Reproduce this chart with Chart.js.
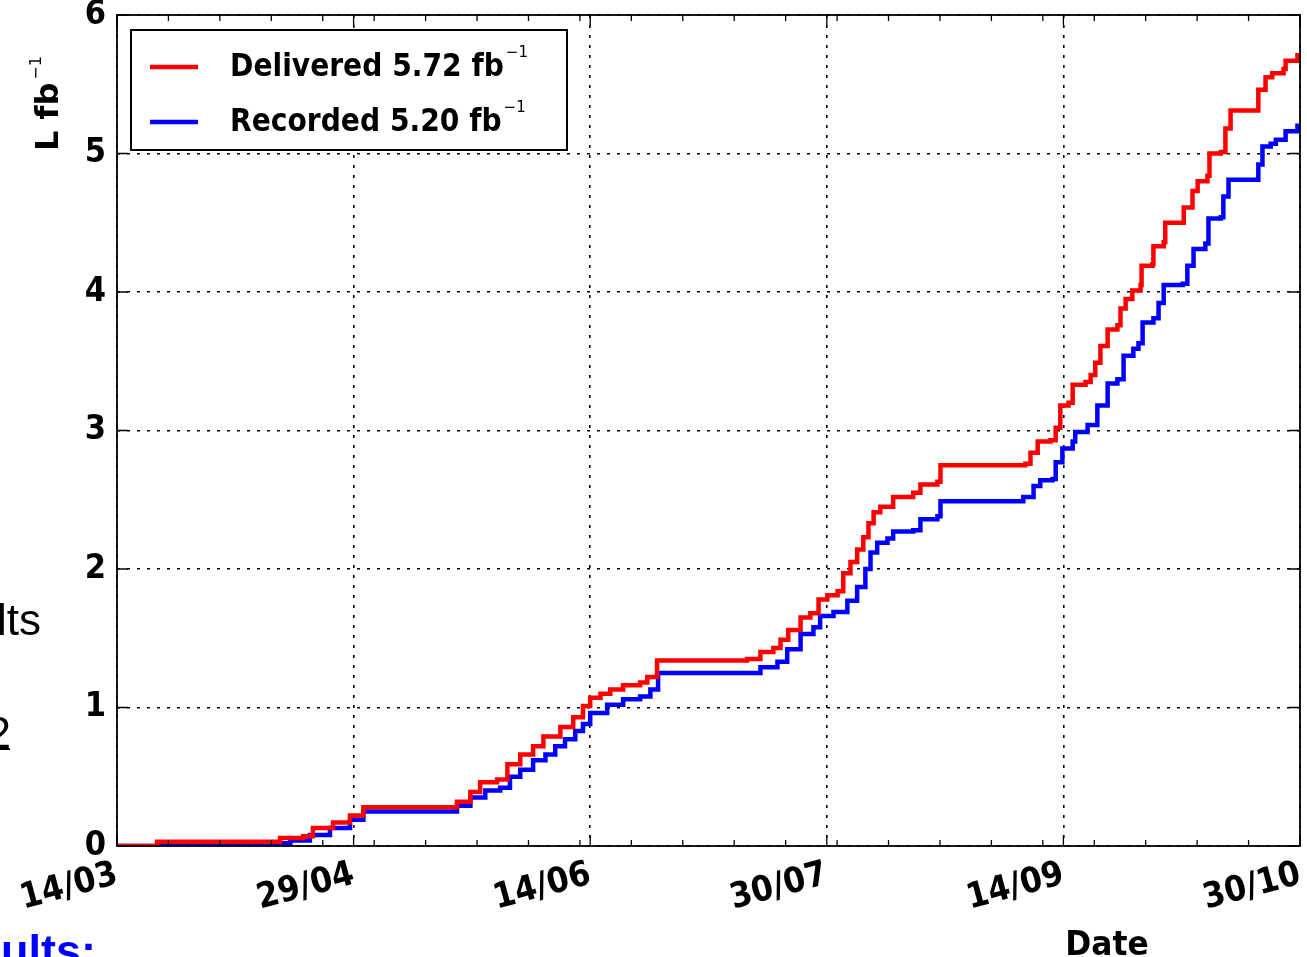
<!DOCTYPE html>
<html>
<head>
<meta charset="utf-8">
<script src="https://cdn.jsdelivr.net/npm/chart.js@4/dist/chart.umd.min.js"></script>
<style>
  html, body { margin: 0; padding: 0; background: #fff; }
  #wrap { width: 1307px; height: 957px; }
</style>
</head>
<body>
<div id="wrap"><canvas id="c" width="1307" height="957"></canvas></div>
<script>
// ---- data (days since 14/03, integrated luminosity in fb^-1) ----
const tickLabels = ['14/03', '29/04', '14/06', '30/07', '14/09', '30/10'];
const tickStepDays = 46;
const totalDays = 230;

const deliveredDays = [0, 7.8, 29.8, 31.7, 36.2, 38.1, 42.0, 45.3, 47.9, 63.4, 66.1, 68.7, 70.6, 73.9, 75.9, 78.4, 80.9, 82.9, 86.2, 88.7, 90.6, 92.0, 94.0, 95.9, 98.4, 101.7, 103.1, 105.0, 120.6, 122.5, 125.1, 127.6, 129.0, 130.5, 132.9, 134.8, 136.4, 138.1, 140.1, 141.2, 142.6, 143.9, 145.1, 146.1, 147.1, 148.4, 150.9, 154.8, 156.2, 159.5, 160.1, 176.6, 177.6, 179.0, 181.5, 182.5, 183.4, 185.0, 185.8, 188.3, 189.3, 190.2, 191.2, 192.6, 194.5, 195.1, 196.1, 197.4, 199.0, 199.2, 201.3, 201.5, 203.5, 203.8, 207.2, 207.4, 209.1, 210.1, 212.0, 212.4, 214.6, 215.5, 216.5, 221.4, 221.9, 223.3, 224.6, 226.8, 227.2, 229.5, 230];
const deliveredLumi = [0, 0.03, 0.03, 0.057, 0.07, 0.13, 0.17, 0.22, 0.28, 0.28, 0.32, 0.39, 0.46, 0.48, 0.59, 0.66, 0.72, 0.79, 0.86, 0.93, 1.01, 1.07, 1.10, 1.13, 1.16, 1.18, 1.22, 1.34, 1.34, 1.35, 1.40, 1.43, 1.49, 1.56, 1.65, 1.68, 1.78, 1.81, 1.84, 1.97, 2.05, 2.14, 2.23, 2.33, 2.41, 2.45, 2.52, 2.55, 2.61, 2.63, 2.75, 2.76, 2.84, 2.92, 2.93, 3.02, 3.18, 3.20, 3.33, 3.35, 3.40, 3.49, 3.61, 3.73, 3.76, 3.88, 3.95, 4.01, 4.05, 4.19, 4.20, 4.33, 4.36, 4.50, 4.50, 4.61, 4.73, 4.80, 4.84, 5.00, 5.01, 5.18, 5.31, 5.31, 5.46, 5.55, 5.58, 5.61, 5.67, 5.71, 5.72];

const recordedDays = [0, 7.8, 30.7, 33.7, 37.5, 41.4, 45.3, 47.9, 63.8, 66.1, 68.7, 71.6, 74.5, 76.4, 78.4, 80.9, 83.3, 85.2, 87.1, 89.1, 90.6, 92.0, 95.3, 98.4, 101.7, 103.7, 105.2, 122.5, 125.1, 128.4, 130.3, 132.9, 135.4, 136.7, 139.3, 142.0, 143.9, 145.5, 146.5, 147.8, 149.8, 150.9, 154.8, 156.2, 159.5, 160.1, 175.6, 176.2, 178.2, 179.5, 181.9, 182.5, 183.8, 185.8, 186.3, 188.7, 190.6, 192.6, 194.5, 195.7, 197.6, 198.6, 199.4, 201.5, 202.5, 203.5, 207.2, 208.1, 209.3, 211.6, 212.2, 214.6, 215.1, 216.1, 221.4, 221.9, 222.7, 224.3, 225.3, 227.2, 229.5, 230];
const recordedLumi = [0, 0.02, 0.02, 0.04, 0.08, 0.13, 0.19, 0.25, 0.25, 0.29, 0.35, 0.40, 0.42, 0.50, 0.55, 0.62, 0.66, 0.72, 0.77, 0.83, 0.88, 0.96, 1.02, 1.06, 1.08, 1.13, 1.25, 1.25, 1.29, 1.33, 1.42, 1.53, 1.58, 1.66, 1.69, 1.77, 1.87, 2.00, 2.12, 2.19, 2.22, 2.27, 2.28, 2.36, 2.38, 2.49, 2.49, 2.52, 2.60, 2.64, 2.65, 2.77, 2.87, 2.92, 2.99, 3.04, 3.18, 3.34, 3.37, 3.54, 3.59, 3.63, 3.78, 3.81, 3.92, 4.05, 4.06, 4.19, 4.31, 4.35, 4.53, 4.54, 4.69, 4.81, 4.81, 4.92, 5.05, 5.07, 5.10, 5.16, 5.20, 5.20];

const seriesNames = ['Delivered 5.72 fb', 'Recorded 5.20 fb'];
const seriesColors = ['#ff0000', '#0000ff'];

const toPoints = (xs, ys) => xs.map((x, i) => ({ x: x, y: ys[i] }));

const X_TICK_FONT = { family: '"DejaVu Sans Condensed", "DejaVu Sans"', size: 35, weight: 'bold' };
const Y_TICK_FONT = { family: '"DejaVu Sans Condensed", "DejaVu Sans"', size: 34, weight: 'bold' };

function squeezedText(ctx, text, x, y, sx) {
  ctx.save();
  ctx.translate(x, y);
  ctx.scale(sx, 1);
  ctx.fillText(text, 0, 0);
  const w = ctx.measureText(text).width * sx;
  ctx.restore();
  return w;
}

const decor = {
  id: 'decor',
  afterDraw(chart) {
    const ctx = chart.ctx;
    const a = chart.chartArea;
    const xs = chart.scales.x, ys = chart.scales.y;
    ctx.save();
    // frame
    ctx.strokeStyle = '#000';
    ctx.lineWidth = 1.8;
    ctx.setLineDash([]);
    ctx.strokeRect(a.left, a.top, a.right - a.left, a.bottom - a.top);
    // inward ticks on x (major + minor) and y
    ctx.lineWidth = 1.3;
    ctx.beginPath();
    for (let d = 0; d <= totalDays; d += tickStepDays) {
      const px = xs.getPixelForValue(d);
      ctx.moveTo(px, a.bottom); ctx.lineTo(px, a.bottom - 11);
      ctx.moveTo(px, a.top); ctx.lineTo(px, a.top + 11);
    }
    for (let d = 10; d < totalDays; d += 10) {
      const px = xs.getPixelForValue(d);
      ctx.moveTo(px, a.bottom); ctx.lineTo(px, a.bottom - 6);
      ctx.moveTo(px, a.top); ctx.lineTo(px, a.top + 6);
    }
    for (let v = 0; v <= 6; v++) {
      const py = ys.getPixelForValue(v);
      ctx.moveTo(a.left, py); ctx.lineTo(a.left + 11, py);
      ctx.moveTo(a.right, py); ctx.lineTo(a.right - 11, py);
    }
    ctx.stroke();

    // legend box
    const lx = 131, ly = 30, lw = 436, lh = 120;
    ctx.fillStyle = '#fff';
    ctx.fillRect(lx, ly, lw, lh);
    ctx.lineWidth = 2;
    ctx.strokeStyle = '#000';
    ctx.strokeRect(lx, ly, lw, lh);
    const rows = [64, 119];
    chart.data.datasets.forEach((ds, i) => {
      const y = rows[i];
      ctx.strokeStyle = ds.borderColor;
      ctx.lineWidth = 4.5;
      ctx.beginPath(); ctx.moveTo(150, y + 3); ctx.lineTo(198, y + 3); ctx.stroke();
      ctx.fillStyle = '#000';
      ctx.font = 'bold 32px "DejaVu Sans"';
      ctx.textAlign = 'left';
      ctx.textBaseline = 'alphabetic';
      const w = squeezedText(ctx, ds.label, 230, y + 12, 0.88);
      ctx.font = '15px "DejaVu Sans"';
      ctx.fillText('\u22121', 230 + w + 2, y - 7);
    });

    // y axis title (rotated)
    ctx.save();
    ctx.translate(58, 151);
    ctx.rotate(-Math.PI / 2);
    ctx.fillStyle = '#000';
    ctx.font = 'bold 32px "DejaVu Sans"';
    ctx.textAlign = 'left';
    ctx.textBaseline = 'alphabetic';
    ctx.fillText('L fb', 0, 0);
    const tw = ctx.measureText('L fb').width;
    ctx.font = '16px "DejaVu Sans"';
    ctx.fillText('\u22121', tw + 3, -17);
    ctx.restore();

    // x axis title
    ctx.fillStyle = '#000';
    ctx.font = 'bold 33px "DejaVu Sans"';
    ctx.textAlign = 'left';
    ctx.textBaseline = 'alphabetic';
    const dw = ctx.measureText('Date').width * 0.95;
    squeezedText(ctx, 'Date', 1107 - dw / 2, 955, 0.95);

    // fragments of the surrounding slide
    ctx.font = '44px "Liberation Sans"';
    ctx.textAlign = 'right';
    ctx.fillStyle = '#000';
    ctx.fillText('lts', 41, 635);
    ctx.fillText('2', 11, 748);
    ctx.fillRect(0, 748, 10, 2);
    ctx.font = 'bold 45px "Liberation Sans"';
    ctx.fillStyle = '#0000ff';
    ctx.textAlign = 'left';
    ctx.fillText('ults:', 1, 966);
    ctx.restore();
  }
};

new Chart(document.getElementById('c'), {
  type: 'line',
  data: {
    datasets: [
      { label: seriesNames[0], data: toPoints(deliveredDays, deliveredLumi), borderColor: seriesColors[0], backgroundColor: seriesColors[0], borderWidth: 4.5, pointRadius: 0, stepped: 'before', fill: false },
      { label: seriesNames[1], data: toPoints(recordedDays, recordedLumi), borderColor: seriesColors[1], backgroundColor: seriesColors[1], borderWidth: 4.5, pointRadius: 0, stepped: 'before', fill: false }
    ]
  },
  options: {
    responsive: false,
    animation: false,
    events: [],
    layout: { padding: { left: 0, top: 15, right: 7, bottom: 0 } },
    plugins: { legend: { display: false }, tooltip: { enabled: false }, title: { display: false } },
    scales: {
      x: {
        type: 'linear',
        min: 0,
        max: totalDays,
        afterFit(s) { s.height = 111; s.paddingLeft = 0; s.paddingRight = 0; },
        afterBuildTicks(s) { s.ticks = tickLabels.map((_, i) => ({ value: i * tickStepDays })); },
        ticks: {
          autoSkip: false,
          minRotation: 15,
          maxRotation: 15,
          padding: 8,
          color: '#000',
          font: X_TICK_FONT,
          callback: (v) => tickLabels[Math.round(v / tickStepDays)] ?? ''
        },
        grid: { color: '#000', lineWidth: 1.6, drawTicks: false },
        border: { display: false, dash: [3, 7] }
      },
      y: {
        min: 0,
        max: 6,
        afterFit(s) { s.width = 117; s.paddingTop = 0; s.paddingBottom = 0; },
        ticks: {
          stepSize: 1,
          padding: 11,
          color: '#000',
          font: Y_TICK_FONT
        },
        grid: { color: '#000', lineWidth: 1.6, drawTicks: false },
        border: { display: false, dash: [3, 7] }
      }
    }
  },
  plugins: [decor]
});
</script>
</body>
</html>
